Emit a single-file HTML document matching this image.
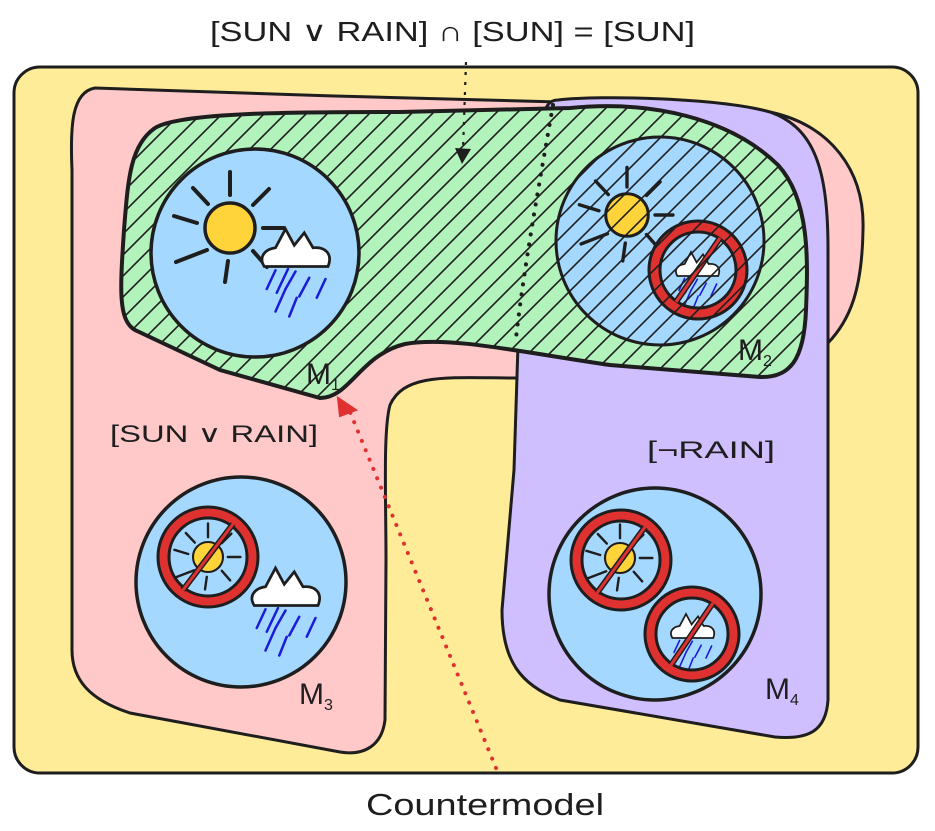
<!DOCTYPE html>
<html><head><meta charset="utf-8"><style>
html,body{margin:0;padding:0;background:#fff;}
svg{display:block;}
text{font-family:"Liberation Sans",sans-serif;fill:#1e1e1e;}
</style></head><body>
<svg width="935" height="831" viewBox="0 0 935 831" xmlns="http://www.w3.org/2000/svg">
<defs>
<pattern id="h" width="21" height="21" patternUnits="userSpaceOnUse">
<path d="M-2,23 L23,-2 M-12,12 L12,-12 M9,33 L33,9" stroke="#1e1e1e" stroke-width="1.6"/>
</pattern>
<g id="sunS">
<g stroke="#1e1e1e" stroke-width="4" stroke-linecap="round">
<line x1="0" y1="-33" x2="0" y2="-56"/><line x1="23" y1="-23" x2="39" y2="-39"/>
<line x1="33" y1="0" x2="54" y2="0"/><line x1="23" y1="23" x2="37" y2="39"/>
<line x1="-2" y1="33" x2="-5" y2="54"/><line x1="-23" y1="22" x2="-54" y2="34"/>
<line x1="-33" y1="-5" x2="-56" y2="-12"/><line x1="-22" y1="-24" x2="-37" y2="-40"/>
</g>
<circle r="25" fill="#ffd43b" stroke="#1e1e1e" stroke-width="3.5"/>
</g>
<g id="cloud">
<path d="M-27,10 C-32,2 -26,-4 -18,-5 L-10,-20 L-3,-7 L5,-17 L12,-5 C22,-6 28,0 24,10 Z" fill="#fff" stroke="#1e1e1e" stroke-width="2.2"/>
<g stroke="#1c1cd6" stroke-width="2" stroke-linecap="round">
<line x1="-18" y1="13" x2="-25" y2="28"/><line x1="-8" y1="12" x2="-17" y2="31"/><line x1="-2" y1="14" x2="-10" y2="28"/>
<line x1="9" y1="19" x2="1" y2="34"/><line x1="22" y1="20" x2="15" y2="35"/><line x1="-10" y1="28" x2="-18" y2="46"/><line x1="-1" y1="35" x2="-7" y2="50"/>
</g>
</g>
</defs>

<rect x="14" y="67" width="904" height="706" rx="26" fill="#ffec99" stroke="#1e1e1e" stroke-width="3"/>

<path d="M95,88 C200,92 450,100 560,102 L770,112 C830,125 865,170 863,230 C862,290 850,320 828,343 L520,378 C450,378 405,372 390,405 C383,430 386,500 386,560 L385,720 C382,745 365,756 340,752 L130,713 C90,700 72,680 72,650 L72,170 C70,125 72,92 95,88 Z" fill="#ffc9c9" stroke="#1e1e1e" stroke-width="3"/>

<path d="M558,100 C600,95 720,98 770,112 C815,128 828,170 828,250 L828,700 C826,730 810,740 775,737 L560,700 C520,685 502,660 502,610 L514,470 L518,345 L545,110 C548,103 552,100 558,100 Z" fill="#d0bfff" stroke="#1e1e1e" stroke-width="3"/>

<path d="M155,128 C180,112 300,112 400,112 L570,108 C650,100 730,118 778,165 C810,200 808,260 806,310 C804,360 790,378 760,377 L610,365 C520,352 450,336 405,344 C360,355 350,398 320,398 L220,370 L135,330 C118,320 120,290 124,230 C128,180 130,145 155,128 Z" fill="#b2f2bb" stroke="#1e1e1e" stroke-width="4"/>
<path d="M155,128 C180,112 300,112 400,112 L570,108 C650,100 730,118 778,165 C810,200 808,260 806,310 C804,360 790,378 760,377 L610,365 C520,352 450,336 405,344 C360,355 350,398 320,398 L220,370 L135,330 C118,320 120,290 124,230 C128,180 130,145 155,128 Z" fill="url(#h)"/>

<circle cx="255" cy="253" r="104" fill="#a5d8ff" stroke="#1e1e1e" stroke-width="3.5"/>
<use href="#sunS" x="230" y="228"/>
<use href="#cloud" transform="translate(298,254) scale(1.25)"/>

<circle cx="660" cy="241" r="104" fill="#a5d8ff" stroke="#1e1e1e" stroke-width="3"/>
<use href="#sunS" transform="translate(627,215) scale(0.85)"/>
<g>
<circle cx="698" cy="270" r="44" fill="#a5d8ff" stroke="#e03131" stroke-width="10"/>
<use href="#cloud" transform="translate(699,268) scale(0.8)"/>
<circle cx="698" cy="270" r="49" fill="none" stroke="#1e1e1e" stroke-width="3"/>
<circle cx="698" cy="270" r="38" fill="none" stroke="#1e1e1e" stroke-width="3"/>
<line x1="720" y1="238" x2="676" y2="302" stroke="#1e1e1e" stroke-width="6"/>
<line x1="720" y1="238" x2="676" y2="302" stroke="#e03131" stroke-width="3"/>
</g>
<circle cx="660" cy="241" r="104" fill="url(#h)"/>

<circle cx="241" cy="582" r="105" fill="#a5d8ff" stroke="#1e1e1e" stroke-width="3.5"/>
<use href="#cloud" transform="translate(288,593) scale(1.25)"/>
<g>
<circle cx="208" cy="557" r="45" fill="#a5d8ff" stroke="#e03131" stroke-width="10"/>
<use href="#sunS" transform="translate(208,557) scale(0.6)"/>
<circle cx="208" cy="557" r="50" fill="none" stroke="#1e1e1e" stroke-width="3"/>
<circle cx="208" cy="557" r="39" fill="none" stroke="#1e1e1e" stroke-width="3"/>
<line x1="233" y1="524" x2="183" y2="590" stroke="#1e1e1e" stroke-width="6"/>
<line x1="233" y1="524" x2="183" y2="590" stroke="#e03131" stroke-width="3"/>
</g>

<circle cx="655" cy="594" r="106" fill="#a5d8ff" stroke="#1e1e1e" stroke-width="3.5"/>
<g>
<circle cx="621" cy="560" r="45" fill="#a5d8ff" stroke="#e03131" stroke-width="10"/>
<use href="#sunS" transform="translate(620,558) scale(0.6)"/>
<circle cx="621" cy="560" r="50" fill="none" stroke="#1e1e1e" stroke-width="3"/>
<circle cx="621" cy="560" r="39" fill="none" stroke="#1e1e1e" stroke-width="3"/>
<line x1="645" y1="527" x2="597" y2="593" stroke="#1e1e1e" stroke-width="6"/>
<line x1="645" y1="527" x2="597" y2="593" stroke="#e03131" stroke-width="3"/>
</g>
<g>
<circle cx="692" cy="634" r="42" fill="#a5d8ff" stroke="#e03131" stroke-width="10"/>
<use href="#cloud" transform="translate(694,630) scale(0.8)"/>
<circle cx="692" cy="634" r="47" fill="none" stroke="#1e1e1e" stroke-width="3"/>
<circle cx="692" cy="634" r="36" fill="none" stroke="#1e1e1e" stroke-width="3"/>
<line x1="713" y1="603" x2="671" y2="665" stroke="#1e1e1e" stroke-width="6"/>
<line x1="713" y1="603" x2="671" y2="665" stroke="#e03131" stroke-width="3"/>
</g>

<path d="M553,105 C540,180 525,260 516,338" fill="none" stroke="#1e1e1e" stroke-width="4" stroke-dasharray="0.1 10" stroke-linecap="round"/>
<path d="M466,62 L463,150" fill="none" stroke="#1e1e1e" stroke-width="2.2" stroke-dasharray="3 7"/>
<path d="M455,148 L471,149 L462,164 Z" fill="#1e1e1e"/>
<path d="M496,768 L350,412" fill="none" stroke="#e03131" stroke-width="4" stroke-dasharray="0.1 10" stroke-linecap="round"/>
<path d="M338,398 L356,410 L340,416 Z" fill="#e03131" stroke="#e03131" stroke-width="2"/>

<text x="210" y="41" font-size="28" textLength="485" lengthAdjust="spacingAndGlyphs">[SUN ∨ RAIN] ∩ [SUN]  = [SUN]</text>
<text x="366" y="815" font-size="31" textLength="238" lengthAdjust="spacingAndGlyphs">Countermodel</text>
<text x="110" y="442" font-size="24" textLength="208" lengthAdjust="spacingAndGlyphs">[SUN ∨ RAIN]</text>
<text x="647" y="458" font-size="24" textLength="128" lengthAdjust="spacingAndGlyphs">[¬RAIN]</text>
<text x="306" y="384" font-size="30">M<tspan font-size="16" dy="6">1</tspan></text>
<text x="738" y="360" font-size="30">M<tspan font-size="16" dy="6">2</tspan></text>
<text x="299" y="704" font-size="30">M<tspan font-size="16" dy="6">3</tspan></text>
<text x="765" y="699" font-size="30">M<tspan font-size="16" dy="6">4</tspan></text>
</svg>
</body></html>
